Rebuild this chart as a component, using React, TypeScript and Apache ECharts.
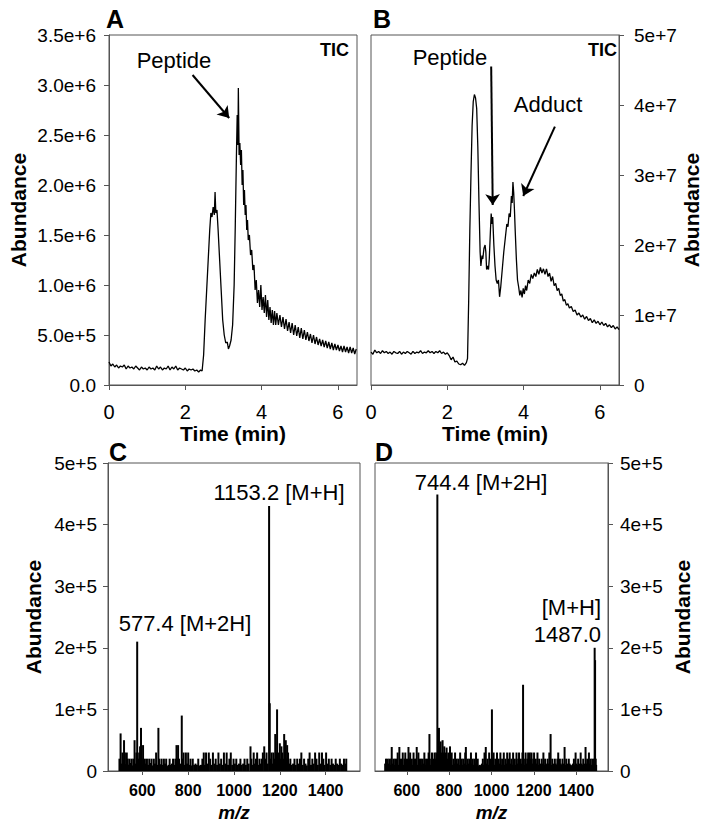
import React, { useEffect, useRef } from "react";
import * as echarts from "echarts";

const FONT = '"Liberation Sans", Arial, Helvetica, sans-serif';

// Panel A: TIC of peptide (time min, abundance)
const ticA: [number, number][] = [
  [0.00,2.3e5],[0.05,1.9e5],[0.10,2.1e5],[0.15,1.8e5],[0.20,2.0e5],[0.25,1.7e5],[0.30,1.9e5],[0.35,1.8e5],[0.40,2.0e5],[0.45,1.6e5],
  [0.50,1.9e5],[0.55,1.7e5],[0.60,1.8e5],[0.65,1.6e5],[0.70,1.9e5],[0.75,1.7e5],[0.80,1.5e5],[0.85,1.8e5],[0.90,1.6e5],[0.95,1.7e5],
  [1.00,1.5e5],[1.05,1.8e5],[1.10,1.6e5],[1.15,1.7e5],[1.20,1.5e5],[1.25,1.9e5],[1.30,1.6e5],[1.35,1.8e5],[1.40,1.5e5],[1.45,1.7e5],
  [1.50,1.6e5],[1.55,1.9e5],[1.60,1.5e5],[1.65,1.8e5],[1.70,1.6e5],[1.75,1.9e5],[1.80,1.5e5],[1.85,1.7e5],[1.90,1.6e5],[1.95,1.5e5],
  [2.00,1.7e5],[2.05,1.4e5],[2.10,1.6e5],[2.15,1.5e5],[2.20,1.6e5],[2.25,1.4e5],[2.30,1.5e5],[2.35,1.3e5],[2.40,1.5e5],[2.44,1.4e5],
  [2.48,3.0e5],[2.52,6.5e5],[2.56,9.5e5],[2.60,1.25e6],[2.64,1.55e6],[2.67,1.72e6],[2.70,1.68e6],[2.73,1.78e6],[2.76,1.70e6],[2.78,1.93e6],
  [2.80,1.72e6],[2.83,1.75e6],[2.86,1.55e6],[2.90,1.25e6],[2.94,9.5e5],[2.98,6.5e5],[3.02,5.0e5],[3.06,4.2e5],[3.10,4.3e5],[3.13,3.6e5],
  [3.16,3.9e5],[3.20,4.5e5],[3.24,6.0e5],[3.28,1.0e6],[3.31,1.6e6],[3.34,2.3e6],[3.36,2.7e6],[3.38,2.4e6],[3.39,2.97e6],[3.41,2.3e6],
  [3.43,2.42e6],[3.45,2.2e6],[3.47,2.35e6],[3.49,2.0e6],[3.51,2.15e6],[3.53,1.8e6],[3.55,1.95e6],[3.57,1.7e6],[3.59,1.8e6],[3.61,1.55e6],
  [3.63,1.65e6],[3.65,1.45e6],[3.68,1.5e6],[3.71,1.3e6],[3.74,1.35e6],[3.77,1.15e6],[3.80,1.2e6],[3.83,9.5e5],[3.86,1.05e6],[3.89,8.2e5],
  [3.92,9.5e5],[3.95,7.8e5],[3.98,1.0e6],[4.01,7.5e5],[4.04,8.8e5],[4.07,7.2e5],[4.10,9.0e5],[4.13,6.8e5],[4.16,8.5e5],[4.19,6.5e5],
  [4.22,7.8e5],[4.25,6.2e5],[4.28,7.5e5],[4.31,6.0e5],[4.34,7.4e5],[4.37,6.0e5],[4.40,7.2e5],[4.44,6.0e5],[4.48,7.0e5],[4.52,5.8e5],
  [4.56,6.8e5],[4.60,5.6e5],[4.64,6.6e5],[4.68,5.4e5],[4.72,6.3e5],[4.76,5.2e5],[4.80,6.2e5],[4.84,5.0e5],[4.88,6.0e5],[4.92,4.9e5],
  [4.96,5.8e5],[5.00,4.7e5],[5.04,5.7e5],[5.08,4.6e5],[5.12,5.5e5],[5.16,4.5e5],[5.20,5.3e5],[5.24,4.4e5],[5.28,5.1e5],[5.32,4.2e5],
  [5.36,5.0e5],[5.40,4.1e5],[5.44,4.8e5],[5.48,4.0e5],[5.52,4.6e5],[5.56,3.9e5],[5.60,4.5e5],[5.64,3.8e5],[5.68,4.4e5],[5.72,3.7e5],
  [5.76,4.3e5],[5.80,3.6e5],[5.84,4.2e5],[5.88,3.5e5],[5.92,4.1e5],[5.96,3.5e5],[6.00,4.0e5],[6.04,3.4e5],[6.08,3.9e5],[6.12,3.3e5],
  [6.16,3.9e5],[6.20,3.3e5],[6.24,3.8e5],[6.28,3.2e5],[6.32,3.8e5],[6.36,3.2e5],[6.40,3.7e5],[6.44,3.1e5],[6.48,3.6e5],
];

// Panel B: TIC of peptide + adduct
const ticB: [number, number][] = [
  [0.00,4.7e6],[0.05,4.4e6],[0.10,5.0e6],[0.15,4.6e6],[0.20,4.8e6],[0.25,4.5e6],[0.30,4.9e6],[0.35,4.6e6],[0.40,4.8e6],[0.45,4.5e6],
  [0.50,4.7e6],[0.55,4.4e6],[0.60,4.8e6],[0.65,4.6e6],[0.70,4.5e6],[0.75,4.8e6],[0.80,4.4e6],[0.85,4.7e6],[0.90,4.5e6],[0.95,4.8e6],
  [1.00,4.6e6],[1.05,4.4e6],[1.10,4.8e6],[1.15,4.5e6],[1.20,4.7e6],[1.25,4.6e6],[1.30,4.9e6],[1.35,4.5e6],[1.40,4.7e6],[1.45,4.6e6],
  [1.50,4.9e6],[1.55,4.6e6],[1.60,4.8e6],[1.65,4.5e6],[1.70,4.8e6],[1.75,4.6e6],[1.80,4.9e6],[1.85,4.5e6],[1.90,4.7e6],[1.95,4.4e6],
  [2.00,4.6e6],[2.05,4.2e6],[2.10,3.6e6],[2.15,4.0e6],[2.20,3.3e6],[2.25,3.4e6],[2.30,3.0e6],[2.35,2.9e6],[2.40,3.1e6],[2.45,2.8e6],
  [2.50,3.2e6],[2.53,3.8e6],[2.56,1.2e7],[2.59,2.2e7],[2.62,3.0e7],[2.65,3.7e7],[2.68,4.05e7],[2.71,4.15e7],[2.74,4.1e7],[2.77,3.95e7],
  [2.80,3.4e7],[2.83,2.6e7],[2.86,1.9e7],[2.88,1.7e7],[2.91,1.85e7],[2.93,1.8e7],[2.96,1.95e7],[2.99,2.0e7],[3.01,1.9e7],[3.03,1.65e7],
  [3.06,1.7e7],[3.08,1.65e7],[3.10,1.8e7],[3.13,2.2e7],[3.15,2.45e7],[3.17,2.3e7],[3.19,2.4e7],[3.22,2.0e7],[3.25,1.7e7],[3.28,1.5e7],
  [3.31,1.45e7],[3.34,1.5e7],[3.37,1.26e7],[3.40,1.4e7],[3.44,1.65e7],[3.48,1.9e7],[3.52,2.1e7],[3.56,2.3e7],[3.59,2.26e7],[3.62,2.45e7],
  [3.65,2.4e7],[3.68,2.7e7],[3.70,2.6e7],[3.72,2.9e7],[3.74,2.75e7],[3.76,2.5e7],[3.78,2.2e7],[3.81,1.8e7],[3.84,1.5e7],[3.87,1.4e7],
  [3.90,1.28e7],[3.93,1.35e7],[3.96,1.25e7],[3.99,1.38e7],[4.02,1.3e7],[4.05,1.42e7],[4.08,1.35e7],[4.12,1.5e7],[4.16,1.45e7],[4.20,1.58e7],
  [4.24,1.52e7],[4.28,1.6e7],[4.32,1.55e7],[4.36,1.65e7],[4.40,1.58e7],[4.44,1.68e7],[4.48,1.6e7],[4.52,1.66e7],[4.56,1.58e7],[4.60,1.66e7],
  [4.64,1.55e7],[4.68,1.6e7],[4.72,1.48e7],[4.76,1.55e7],[4.80,1.42e7],[4.84,1.45e7],[4.88,1.35e7],[4.92,1.38e7],[4.96,1.28e7],[5.00,1.3e7],
  [5.04,1.2e7],[5.08,1.22e7],[5.12,1.14e7],[5.16,1.16e7],[5.20,1.1e7],[5.25,1.12e7],[5.30,1.05e7],[5.35,1.07e7],[5.40,1.0e7],[5.45,1.03e7],
  [5.50,9.7e6],[5.55,1.0e7],[5.60,9.4e6],[5.65,9.8e6],[5.70,9.2e6],[5.75,9.5e6],[5.80,8.9e6],[5.85,9.3e6],[5.90,8.8e6],[5.95,9.1e6],
  [6.00,8.6e6],[6.05,9.0e6],[6.10,8.5e6],[6.15,8.8e6],[6.20,8.3e6],[6.25,8.6e6],[6.30,8.2e6],[6.35,8.5e6],[6.40,8.0e6],[6.45,8.3e6],[6.50,7.9e6],
];

// Panel C: mass spectrum of peptide (m/z, abundance)
const specC: [number, number][] = [
  [500,2.0e4],[505,6.1e4],[509,1.2e4],[513,3.0e4],[517,1.8e4],[520,5.0e4],[524,3.0e4],[528,1.1e4],[532,3.0e4],[536,2.0e4],
  [540,1.0e4],[544,2.0e4],[549,1.3e4],[553,2.0e4],[557,0.9e4],[561,2.0e4],[566,5.0e4],[570,1.2e4],[574,3.0e4],[577.4,2.1e5],
  [582,2.0e4],[586,3.0e4],[590,4.0e4],[594,7.0e4],[598,2.0e4],[603,4.2e4],[607,1.0e4],[611,2.0e4],[616,1.2e4],[620,2.0e4],
  [625,1.0e4],[630,2.0e4],[635,1.3e4],[640,2.0e4],[645,0.9e4],[650,2.0e4],[655,1.2e4],[660,3.0e4],[665,1.0e4],[670,7.0e4],
  [674,2.0e4],[679,1.1e4],[684,2.0e4],[689,1.0e4],[694,2.0e4],[699,1.2e4],[704,2.0e4],[709,0.8e4],[714,1.0e4],[719,2.0e4],
  [724,1.0e4],[729,1.2e4],[734,2.0e4],[739,1.0e4],[744,2.0e4],[749,4.2e4],[753,2.0e4],[756,4.2e4],[760,2.0e4],[765,1.2e4],
  [772,9.0e4],[776,2.0e4],[780,3.0e4],[785,1.0e4],[790,3.0e4],[795,1.2e4],[800,3.0e4],[805,1.0e4],[810,2.0e4],[815,0.9e4],
  [820,2.0e4],[826,1.0e4],[832,1.2e4],[838,1.0e4],[844,2.0e4],[850,0.9e4],[856,1.0e4],[862,2.0e4],[868,3.0e4],[873,1.0e4],
  [878,3.0e4],[884,1.2e4],[890,3.0e4],[896,2.0e4],[902,1.0e4],[908,3.0e4],[914,1.2e4],[920,2.0e4],[926,1.0e4],[932,3.0e4],
  [938,1.2e4],[944,2.0e4],[950,1.0e4],[956,3.0e4],[962,1.2e4],[968,3.0e4],[974,1.0e4],[980,2.0e4],[986,3.0e4],[992,1.0e4],
  [998,2.0e4],[1004,1.2e4],[1010,2.0e4],[1016,1.0e4],[1022,1.2e4],[1028,2.0e4],[1034,1.0e4],[1040,1.2e4],[1046,2.0e4],[1052,1.0e4],
  [1058,2.0e4],[1064,1.2e4],[1072,4.0e4],[1076,2.0e4],[1081,1.0e4],[1086,3.0e4],[1091,1.2e4],[1096,2.0e4],[1101,3.0e4],[1106,1.0e4],
  [1111,2.0e4],[1116,1.2e4],[1121,2.0e4],[1126,3.0e4],[1132,4.0e4],[1137,2.0e4],[1142,3.0e4],[1147,1.2e4],[1153.2,4.3e5],[1156,1.1e5],
  [1160,2.0e4],[1164,3.0e4],[1168,1.2e4],[1172,3.0e4],[1176,2.0e4],[1180,6.0e4],[1184,3.0e4],[1188,1.0e5],[1192,2.0e4],[1196,3.0e4],
  [1200,4.5e4],[1204,2.0e4],[1207,4.0e4],[1211,3.0e4],[1215,2.0e4],[1219,6.0e4],[1223,3.0e4],[1226,5.0e4],[1230,2.0e4],[1232,4.2e4],
  [1236,3.0e4],[1241,1.2e4],[1246,2.0e4],[1252,1.0e4],[1258,1.2e4],[1264,2.0e4],[1270,1.0e4],[1276,2.0e4],[1282,1.2e4],[1288,2.0e4],
  [1294,3.0e4],[1300,1.0e4],[1306,2.0e4],[1312,1.2e4],[1318,0.9e4],[1324,2.0e4],[1330,3.0e4],[1336,1.0e4],[1342,2.0e4],[1348,1.2e4],
  [1354,3.0e4],[1360,2.0e4],[1366,1.0e4],[1372,3.0e4],[1378,1.2e4],[1384,3.0e4],[1390,2.0e4],[1396,1.0e4],[1402,3.0e4],[1408,1.2e4],
  [1414,2.0e4],[1420,1.0e4],[1426,2.0e4],[1432,1.2e4],[1438,1.0e4],[1444,2.0e4],[1450,1.2e4],[1456,1.0e4],[1462,2.0e4],[1468,1.2e4],
  [1474,1.0e4],[1480,2.0e4],[1486,1.2e4],[1490,2.0e4],
];

// Panel D: mass spectrum of adduct (m/z, abundance)
const specD: [number, number][] = [
  [498,1.2e4],[502,2.0e4],[506,1.0e4],[510,2.0e4],[514,1.2e4],[518,2.0e4],[522,1.0e4],[526,2.0e4],[529,3.9e4],[533,1.2e4],
  [537,2.0e4],[541,1.0e4],[545,2.0e4],[549,1.2e4],[553,2.0e4],[557,3.0e4],[561,1.0e4],[565,3.9e4],[569,2.0e4],[573,1.2e4],
  [577,2.0e4],[581,3.0e4],[585,1.0e4],[589,2.0e4],[593,3.0e4],[597,1.2e4],[601,2.0e4],[605,1.0e4],[608,3.9e4],[612,2.0e4],
  [616,3.0e4],[620,1.2e4],[624,2.0e4],[628,1.0e4],[632,3.0e4],[636,2.0e4],[640,1.2e4],[643,2.0e4],[647,3.9e4],[651,1.0e4],
  [655,3.0e4],[659,2.0e4],[663,1.2e4],[667,2.0e4],[671,1.0e4],[675,2.0e4],[679,1.2e4],[683,3.0e4],[687,1.0e4],[691,2.0e4],
  [695,1.2e4],[699,2.0e4],[703,3.0e4],[707,6.0e4],[711,1.0e4],[715,2.0e4],[719,3.0e4],[723,1.2e4],[727,2.0e4],[731,3.0e4],
  [735,2.0e4],[739,3.0e4],[744.4,4.49e5],[748,3.0e4],[752,7.0e4],[756,4.0e4],[760,4.8e4],[764,3.0e4],[769,5.0e4],[773,3.0e4],
  [777,4.0e4],[781,2.0e4],[785,3.0e4],[788,3.8e4],[792,2.0e4],[796,3.0e4],[800,1.2e4],[804,4.0e4],[808,2.0e4],[812,3.0e4],
  [816,1.0e4],[820,2.0e4],[824,1.2e4],[828,3.0e4],[832,1.0e4],[836,2.0e4],[840,1.2e4],[844,2.0e4],[848,1.0e4],[852,3.0e4],
  [856,1.2e4],[860,2.0e4],[864,1.0e4],[868,2.0e4],[872,1.2e4],[876,3.0e4],[879,3.9e4],[883,1.0e4],[887,2.0e4],[891,1.2e4],
  [895,2.0e4],[899,1.0e4],[903,3.0e4],[907,1.2e4],[911,2.0e4],[915,1.0e4],[919,2.0e4],[923,1.2e4],[927,3.0e4],[931,1.0e4],
  [935,2.0e4],[939,0.8e4],[943,1.0e4],[947,0.8e4],[951,1.0e4],[955,1.2e4],[959,2.0e4],[963,1.0e4],[967,3.0e4],[973,3.9e4],
  [977,1.2e4],[981,2.0e4],[985,1.0e4],[989,3.0e4],[993,2.0e4],[997,1.2e4],[1002,1.0e5],[1006,2.0e4],[1010,3.0e4],[1014,1.0e4],
  [1018,2.0e4],[1022,1.2e4],[1026,3.0e4],[1030,1.0e4],[1034,2.0e4],[1038,1.2e4],[1042,3.0e4],[1046,1.0e4],[1050,2.0e4],[1054,1.2e4],
  [1058,3.0e4],[1062,1.0e4],[1066,2.0e4],[1070,1.2e4],[1074,3.0e4],[1078,2.0e4],[1082,1.0e4],[1086,3.0e4],[1090,1.2e4],[1094,2.0e4],
  [1098,1.0e4],[1102,3.0e4],[1106,1.2e4],[1110,2.0e4],[1114,1.0e4],[1118,3.0e4],[1122,1.2e4],[1126,2.0e4],[1130,3.0e4],[1134,1.0e4],
  [1138,2.0e4],[1142,1.2e4],[1146,3.0e4],[1149,1.4e5],[1153,2.0e4],[1157,1.0e4],[1161,3.0e4],[1165,1.2e4],[1169,2.0e4],[1173,3.0e4],
  [1177,1.0e4],[1181,3.0e4],[1185,2.0e4],[1189,3.0e4],[1193,1.2e4],[1197,2.0e4],[1201,3.0e4],[1205,1.0e4],[1209,2.0e4],[1213,1.2e4],
  [1217,3.0e4],[1221,1.0e4],[1225,2.0e4],[1229,1.2e4],[1233,1.0e4],[1237,2.0e4],[1241,1.2e4],[1245,3.0e4],[1249,1.0e4],[1253,2.0e4],
  [1257,1.2e4],[1261,1.0e4],[1265,2.0e4],[1269,1.2e4],[1273,3.0e4],[1279,6.0e4],[1283,1.0e4],[1287,2.0e4],[1291,1.2e4],[1295,1.0e4],
  [1299,2.0e4],[1303,1.2e4],[1307,1.0e4],[1311,2.0e4],[1315,3.0e4],[1319,1.0e4],[1323,2.0e4],[1327,1.2e4],[1331,1.0e4],[1335,2.0e4],
  [1339,1.2e4],[1345,3.9e4],[1349,1.0e4],[1353,2.0e4],[1357,1.2e4],[1361,1.0e4],[1365,2.0e4],[1369,1.2e4],[1373,1.0e4],[1377,0.8e4],
  [1381,1.0e4],[1385,1.2e4],[1389,2.0e4],[1393,1.0e4],[1397,3.0e4],[1401,1.2e4],[1405,1.0e4],[1409,2.0e4],[1413,1.2e4],[1417,1.0e4],
  [1421,3.0e4],[1425,1.2e4],[1429,1.0e4],[1433,2.0e4],[1437,1.2e4],[1441,1.0e4],[1444,3.9e4],[1448,1.2e4],[1452,2.0e4],[1456,1.0e4],
  [1460,3.0e4],[1464,1.2e4],[1468,2.0e4],[1472,1.0e4],[1476,2.0e4],[1480,1.2e4],[1484,2.0e4],[1487.0,2.0e5],[1489,1.8e5],[1492,2.0e4],[1494,1.0e4],
];

// Tick positions
const mzTicks = [600, 800, 1000, 1200, 1400];

// Annotation arrows (data coords: [start, end])
const arrowA = [[2.19, 3.1e6], [3.15, 2.67e6]];
const arrowBPeptide = [[3.15, 4.55e7], [3.19, 2.57e7]];
const arrowBAdduct = [[4.82, 3.69e7], [3.99, 2.7e7]];

const AXIS_COLOR = "#555";

function fmtA(v: number) {
  if (v === 0) return "0.0";
  const e = Math.floor(Math.log10(v) + 1e-9);
  return (v / Math.pow(10, e)).toFixed(1) + "e+" + e;
}
function fmtSci(v: number) {
  if (v === 0) return "0";
  const e = Math.floor(Math.log10(v) + 1e-9);
  return Math.round(v / Math.pow(10, e)) + "e+" + e;
}

function arrowLine(a: number[][]) {
  return [{ coord: a[0] }, { coord: a[1] }];
}

export default function App() {
  const ref = useRef<HTMLDivElement>(null);
  useEffect(() => {
    document.body.style.margin = "0";
    if (!ref.current) return;
    const chart = echarts.init(ref.current, undefined, { renderer: "svg" });

    const axisLine = () => ({ show: true, onZero: false, lineStyle: { color: AXIS_COLOR, width: 1 } });
    const tick = () => ({ show: true, inside: false, length: 5, lineStyle: { color: AXIS_COLOR } });
    const tickLabel = () => ({ color: "#000", fontFamily: FONT, fontSize: 19 });
    const nameStyle = () => ({ color: "#000", fontFamily: FONT, fontSize: 21, fontWeight: "bold" });

    const timeX = (gi: number) => ({
      type: "value", gridIndex: gi, min: 0, max: 6.5, interval: 2,
      axisLine: axisLine(),
      axisTick: tick(),
      axisLabel: { ...tickLabel(), fontSize: 20, margin: 17, formatter: (v: number) => String(v) },
      splitLine: { show: false },
      name: "Time (min)", nameLocation: "middle", nameGap: 38, nameTextStyle: nameStyle(),
    });
    const mzX = (gi: number) => ({
      type: "value", gridIndex: gi, min: 450, max: 1550,
      axisLine: axisLine(),
      axisTick: { ...tick(), length: 4, customValues: mzTicks },
      axisLabel: {
        ...tickLabel(), fontSize: 16, fontWeight: "bold", margin: 11, customValues: mzTicks,
        formatter: (v: number) => String(v),
      },
      splitLine: { show: false },
      name: "m/z", nameLocation: "middle", nameGap: 32,
      nameTextStyle: { ...nameStyle(), fontSize: 19, fontStyle: "italic" },
    });
    const valY = (gi: number, max: number, interval: number, right: boolean, margin: number, gap: number, fmt: (v: number) => string) => ({
      type: "value", gridIndex: gi, position: right ? "right" : "left", min: 0, max, interval,
      axisLine: axisLine(), axisTick: tick(),
      axisLabel: { ...tickLabel(), margin, formatter: fmt }, splitLine: { show: false },
      name: "Abundance", nameLocation: "middle", nameRotate: 90, nameGap: gap, nameTextStyle: nameStyle(),
    });

    const lineSeries = (data: [number, number][], gi: number, arrows: number[][][]) => ({
      type: "line", xAxisIndex: gi, yAxisIndex: gi, data, showSymbol: false, symbol: "none",
      lineStyle: { color: "#000", width: 1.3 }, silent: true,
      markLine: {
        silent: true, symbol: ["none", "arrow"], symbolSize: 11,
        label: { show: false },
        lineStyle: { type: "solid", color: "#000", width: 2 },
        emphasis: { disabled: true },
        data: arrows.map(arrowLine),
      },
    });
    const barSeries = (data: [number, number][], gi: number) => ({
      type: "bar", xAxisIndex: gi, yAxisIndex: gi, data, barWidth: 2,
      itemStyle: { color: "#000" }, silent: true,
    });

    const text = (t: string, x: number, y: number, size: number, opts: any = {}) => ({
      type: "text", x, y, silent: true,
      style: {
        text: t, fill: "#000", font: `${opts.bold ? "bold " : ""}${size}px ${FONT}`,
        textAlign: opts.align || "center", textVerticalAlign: "middle",
      },
    });

    chart.setOption({
      animation: false,
      backgroundColor: "#fff",
      grid: [
        { left: 109, top: 35, width: 248, height: 350, show: true, borderColor: AXIS_COLOR, borderWidth: 1 },
        { left: 371, top: 35, width: 248, height: 350, show: true, borderColor: AXIS_COLOR, borderWidth: 1 },
        { left: 108, top: 463, width: 252, height: 308, show: true, borderColor: AXIS_COLOR, borderWidth: 1 },
        { left: 375, top: 463, width: 233, height: 308, show: true, borderColor: AXIS_COLOR, borderWidth: 1 },
      ],
      xAxis: [timeX(0), timeX(1), mzX(2), mzX(3)],
      yAxis: [
        valY(0, 3.5e6, 5e5, false, 13, 80, fmtA),
        valY(1, 5e7, 1e7, true, 15, 62, fmtSci),
        valY(2, 5e5, 1e5, false, 11, 64, fmtSci),
        valY(3, 5e5, 1e5, true, 12, 64, fmtSci),
      ],
      series: [
        lineSeries(ticA, 0, [arrowA]),
        lineSeries(ticB, 1, [arrowBPeptide, arrowBAdduct]),
        barSeries(specC, 2),
        barSeries(specD, 3),
      ],
      graphic: [
        text("A", 106, 19, 25, { bold: true, align: "left" }),
        text("B", 373, 19, 25, { bold: true, align: "left" }),
        text("C", 109, 452, 25, { bold: true, align: "left" }),
        text("D", 375, 452, 25, { bold: true, align: "left" }),
        text("TIC", 349, 50, 18, { bold: true, align: "right" }),
        text("TIC", 617, 50, 18, { bold: true, align: "right" }),
        text("Peptide", 174, 60, 22),
        text("Peptide", 450, 57, 22),
        text("Adduct", 548, 104, 22),
        text("1153.2 [M+H]", 279, 492, 22),
        text("577.4 [M+2H]", 185, 623, 22),
        text("744.4 [M+2H]", 481, 482, 22),
        text("[M+H]", 601, 607, 22, { align: "right" }),
        text("1487.0", 601, 634, 22, { align: "right" }),
      ],
    });
    return () => chart.dispose();
  }, []);
  return <div ref={ref} style={{ width: 707, height: 834 }} />;
}
